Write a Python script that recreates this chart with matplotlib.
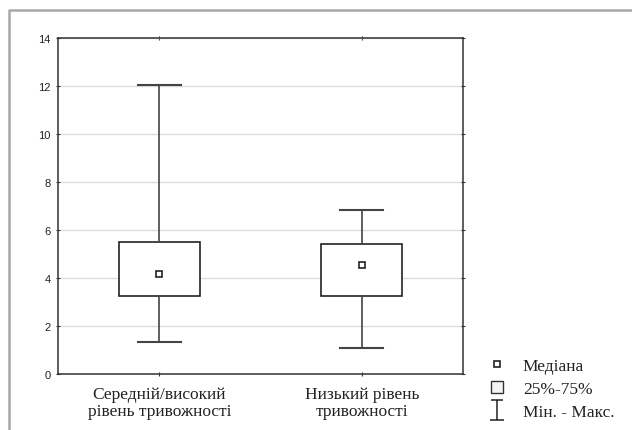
import matplotlib
matplotlib.use('Agg')
import matplotlib.pyplot as plt
from matplotlib.lines import Line2D
from matplotlib.patches import Rectangle
from matplotlib.path import Path

# values
groups = ['Середній/високий\nрівень тривожності', 'Низький рівень\nтривожності']
medians = [4.17, 4.54]
q1 = [3.27, 3.25]
q3 = [5.50, 5.43]
mins = [1.36, 1.10]
maxs = [12.05, 6.83]
y_ticks = [0, 2, 4, 6, 8, 10, 12, 14]
legend_labels = ['Медіана', '25%-75%', 'Мін. - Макс.']

serif = 'Liberation Serif'
sans = 'Liberation Sans'
dark = '#333333'

fig = plt.figure(figsize=(6.32, 4.31), dpi=100)
ax = fig.add_axes([0.0918, 0.1292, 0.6408, 0.7796])

stats = []
for i in range(len(groups)):
    stats.append({'med': medians[i], 'q1': q1[i], 'q3': q3[i],
                  'whislo': mins[i], 'whishi': maxs[i], 'fliers': []})

pos = list(range(len(groups)))
ax.bxp(stats, positions=pos, widths=0.4, capwidths=0.21, patch_artist=True,
       showfliers=False,
       boxprops=dict(facecolor='white', edgecolor='#222222', linewidth=1.2),
       whiskerprops=dict(color='#444444', linewidth=1.2),
       capprops=dict(color='#444444', linewidth=1.5),
       medianprops=dict(visible=False), zorder=3)
ax.plot(pos, medians, linestyle='none', marker='s', markersize=5,
        markerfacecolor='white', markeredgecolor='#222222', markeredgewidth=1.2,
        zorder=4)

ax.set_xlim(-0.5, len(groups) - 0.5)
ax.set_ylim(0, 14)
ax.set_yticks(y_ticks)
ax.set_yticklabels([str(v) for v in y_ticks], fontfamily=sans, fontsize=8,
                   color='#222222')
ax.set_xticks(pos)
ax.set_xticklabels(groups, fontfamily=serif, fontsize=12.5, color='#222222',
                   linespacing=1.1)
ax.yaxis.grid(True, color='#dcdcdc', linewidth=1, zorder=0)
ax.set_axisbelow(True)
ax.tick_params(axis='both', direction='inout', length=3, width=0.8,
               color=dark, top=True, right=True, pad=4)
ax.tick_params(axis='x', pad=7)
for s in ax.spines.values():
    s.set_color(dark)
    s.set_linewidth(1.1)

# legend
ibeam = Path([(-0.7, -1), (0.7, -1), (0, -1), (0, 1), (-0.55, 1), (0.55, 1)],
             [Path.MOVETO, Path.LINETO, Path.MOVETO, Path.LINETO,
              Path.MOVETO, Path.LINETO])
handles = [
    Line2D([], [], linestyle='none', marker='s', markersize=4.5,
           markerfacecolor='white', markeredgecolor='#222222', markeredgewidth=1.2),
    Rectangle((0, 0), 1, 1, facecolor='#f4f4f4', edgecolor='#333333', linewidth=1),
    Line2D([], [], linestyle='none', marker=ibeam, markersize=15,
           markeredgecolor='#222222', markeredgewidth=1.1),
]
leg = fig.legend(handles, legend_labels, loc='upper left',
                 bbox_to_anchor=(491 / 632, 1 - 359 / 431), frameon=False,
                 prop={'family': serif, 'size': 12.5}, handlelength=0.7,
                 handleheight=0.7, handletextpad=1.14, labelspacing=0.4,
                 borderpad=0, borderaxespad=0)
for t in leg.get_texts():
    t.set_color('#222222')

# outer frame
fx = 9 / 632
fy = 1 - 11 / 431
fig.add_artist(Line2D([fx, fx, 1.05], [-0.05, fy, fy], color='#a8a8a8',
                      linewidth=1.8, transform=fig.transFigure))

fig.savefig('out.png', dpi=100)
